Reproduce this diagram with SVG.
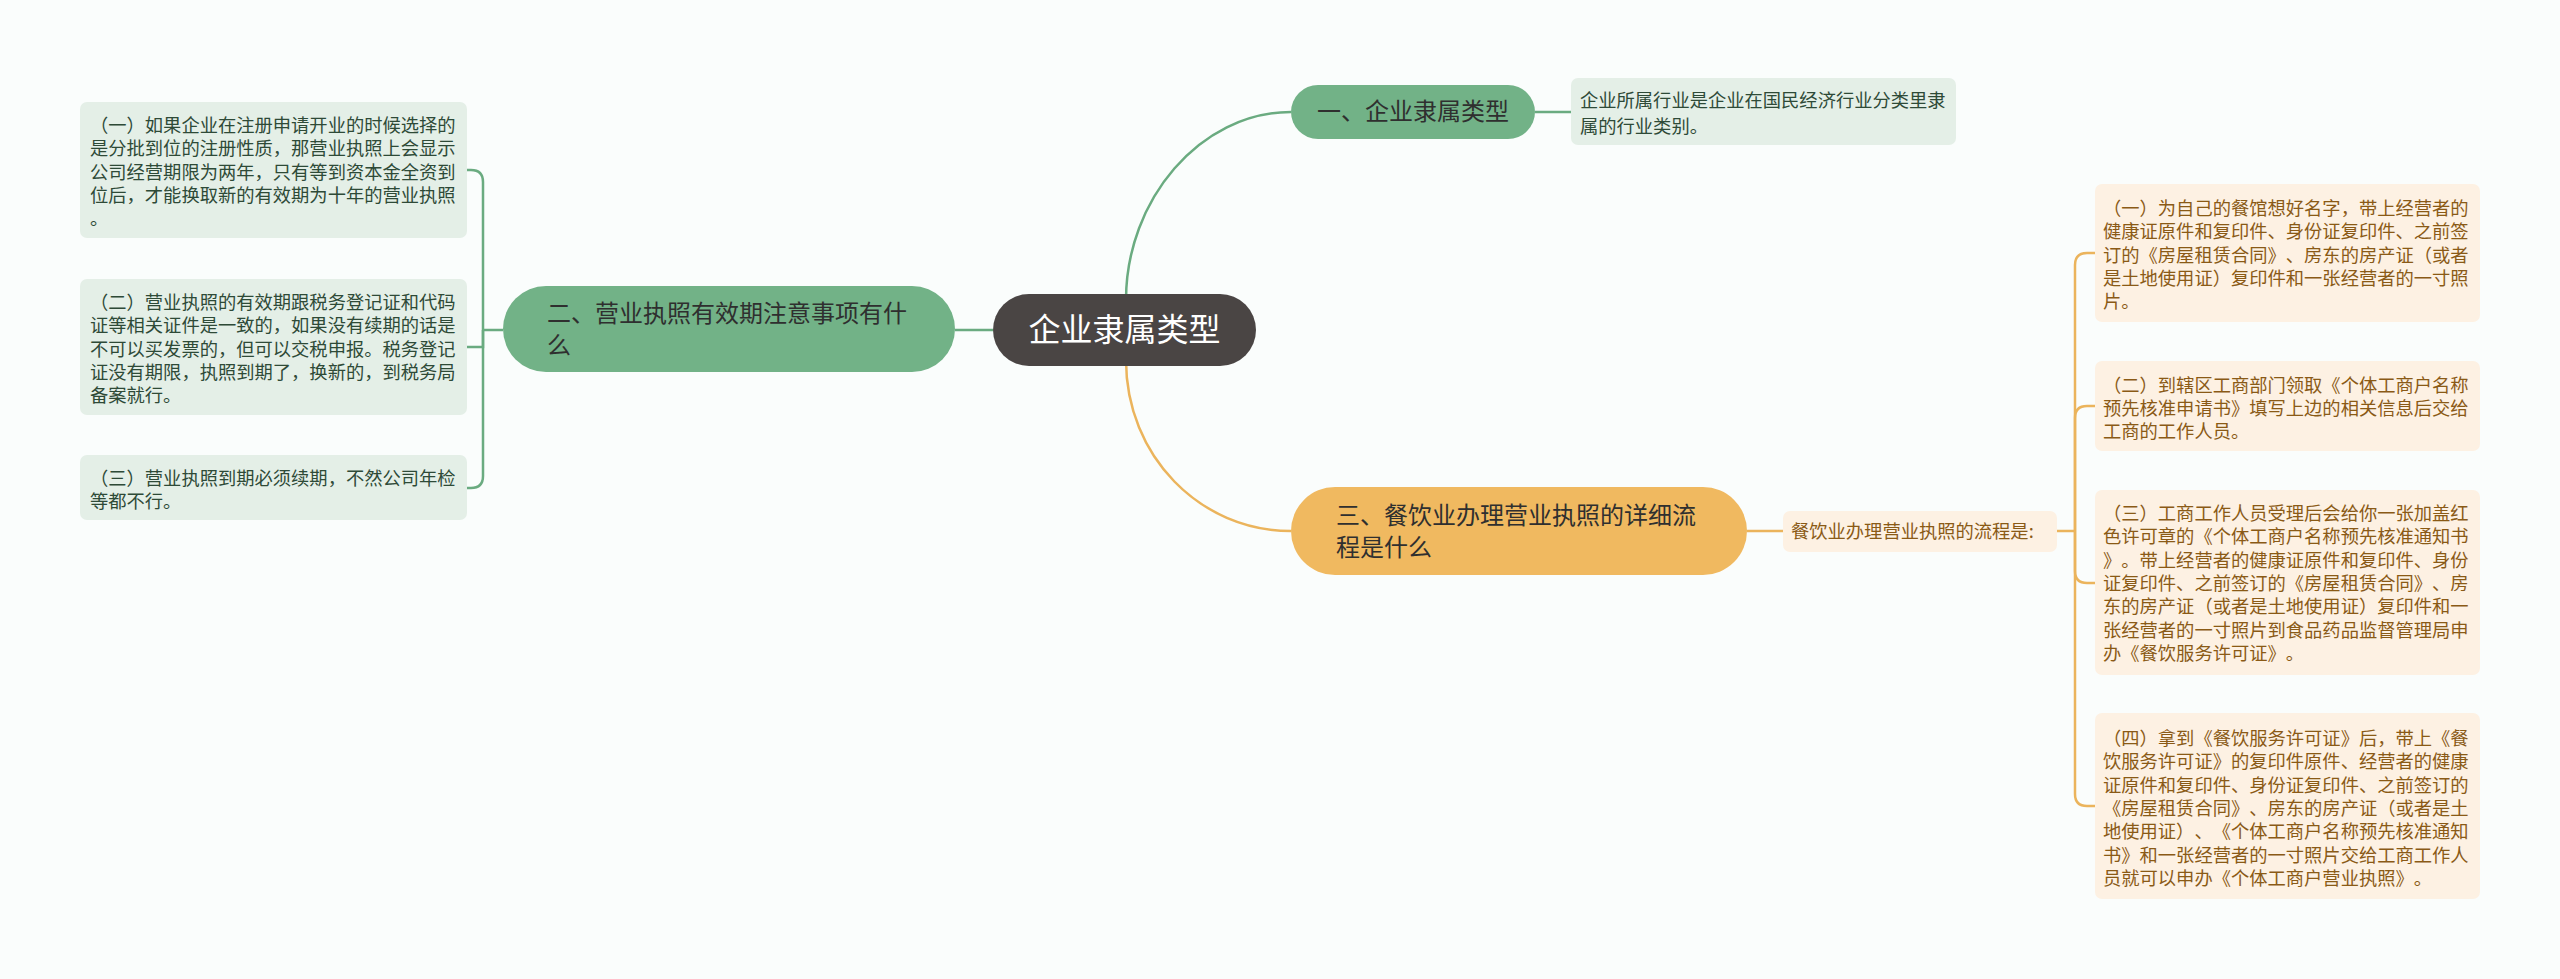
<svg xmlns="http://www.w3.org/2000/svg" width="2560" height="979" viewBox="0 0 2560 979">
<style>
text{font-family:"Noto Sans CJK SC","Noto Sans",sans-serif;text-spacing-trim:space-all}
.gbox{fill:#e4efe7}
.obox{fill:#fdf1e3}
.gt{font-size:18.3px;fill:#2e4a37}
.ot{font-size:18.3px;fill:#8a5a16}
.gl{fill:none;stroke:#6aab80;stroke-width:2.5}
.ol{fill:none;stroke:#ebb45c;stroke-width:2.5}
.nt{font-size:24px;fill:#2f2f2f}
</style>
<rect width="2560" height="979" fill="#fafdfc"/>
<g id="connectors">
<path class="gl" d="M1126,300 C1126,200 1200,112 1291,112"/>
<path class="ol" d="M1126,360 C1126,456 1200,531 1291,531"/>
<path class="gl" d="M993,330 L955,330"/>
<path class="gl" d="M1535,112 L1571,112"/>
<path class="ol" d="M1747,531 L1783,531"/>
<path class="gl" d="M503,330 L483,330"/>
<path class="gl" d="M483,330 L483,182 Q483,170 471,170 L467,170"/>
<path class="gl" d="M483,330 L483,347 L467,347"/>
<path class="gl" d="M483,330 L483,476 Q483,488 471,488 L467,488"/>
<path class="ol" d="M2057,531 L2075,531"/>
<path class="ol" d="M2075,531 L2075,265 Q2075,253 2087,253 L2095,253"/>
<path class="ol" d="M2075,531 L2075,418 Q2075,406 2087,406 L2095,406"/>
<path class="ol" d="M2075,531 L2075,571 Q2075,583 2087,583 L2095,583"/>
<path class="ol" d="M2075,531 L2075,794 Q2075,806 2087,806 L2095,806"/>
</g>
<g id="center">
<rect x="993" y="294" width="263" height="72" rx="36" fill="#4a4544"/>
<text x="1124.5" y="341" font-size="32" fill="#ffffff" text-anchor="middle">企业隶属类型</text>
</g>
<g id="n1">
<rect x="1291" y="85" width="244" height="54" rx="27" fill="#72b287"/>
<text class="nt" x="1413" y="120" text-anchor="middle">一、企业隶属类型</text>
</g>
<g id="n1-leaf">
<rect x="1571" y="78" width="385" height="67" rx="7" class="gbox"/>
<text class="gt"><tspan x="1580" y="107">企业所属行业是企业在国民经济行业分类里隶</tspan><tspan x="1580" y="133">属的行业类别。</tspan></text>
</g>
<g id="n2">
<rect x="503" y="286" width="452" height="86" rx="43" fill="#72b287"/>
<text class="nt"><tspan x="547" y="322">二、营业执照有效期注意事项有什</tspan><tspan x="547" y="354">么</tspan></text>
</g>
<g id="n2-a">
<rect x="80" y="102" width="387" height="136" rx="7" class="gbox"/>
<text class="gt"><tspan x="90" y="132">（一）如果企业在注册申请开业的时候选择的</tspan><tspan x="90" y="155">是分批到位的注册性质，那营业执照上会显示</tspan><tspan x="90" y="179">公司经营期限为两年，只有等到资本金全资到</tspan><tspan x="90" y="202">位后，才能换取新的有效期为十年的营业执照</tspan><tspan x="90" y="225">。</tspan></text>
</g>
<g id="n2-b">
<rect x="80" y="279" width="387" height="136" rx="7" class="gbox"/>
<text class="gt"><tspan x="90" y="309">（二）营业执照的有效期跟税务登记证和代码</tspan><tspan x="90" y="332">证等相关证件是一致的，如果没有续期的话是</tspan><tspan x="90" y="356">不可以买发票的，但可以交税申报。税务登记</tspan><tspan x="90" y="379">证没有期限，执照到期了，换新的，到税务局</tspan><tspan x="90" y="402">备案就行。</tspan></text>
</g>
<g id="n2-c">
<rect x="80" y="455" width="387" height="65" rx="7" class="gbox"/>
<text class="gt"><tspan x="90" y="485">（三）营业执照到期必须续期，不然公司年检</tspan><tspan x="90" y="508">等都不行。</tspan></text>
</g>
<g id="n3">
<rect x="1291" y="487" width="456" height="88" rx="44" fill="#f0b960"/>
<text class="nt" fill="#3a2e1c"><tspan x="1336" y="524">三、餐饮业办理营业执照的详细流</tspan><tspan x="1336" y="556">程是什么</tspan></text>
</g>
<g id="n3-leaf">
<rect x="1783" y="511" width="274" height="41" rx="7" class="obox"/>
<text class="ot" x="1791" y="538">餐饮业办理营业执照的流程是:</text>
</g>
<g id="n3-a">
<rect x="2095" y="184" width="385" height="138" rx="7" class="obox"/>
<text class="ot"><tspan x="2103" y="215">（一）为自己的餐馆想好名字，带上经营者的</tspan><tspan x="2103" y="238">健康证原件和复印件、身份证复印件、之前签</tspan><tspan x="2103" y="262">订的《房屋租赁合同》、房东的房产证（或者</tspan><tspan x="2103" y="285">是土地使用证）复印件和一张经营者的一寸照</tspan><tspan x="2103" y="308">片。</tspan></text>
</g>
<g id="n3-b">
<rect x="2095" y="361" width="385" height="90" rx="7" class="obox"/>
<text class="ot"><tspan x="2103" y="392">（二）到辖区工商部门领取《个体工商户名称</tspan><tspan x="2103" y="415">预先核准申请书》填写上边的相关信息后交给</tspan><tspan x="2103" y="438">工商的工作人员。</tspan></text>
</g>
<g id="n3-c">
<rect x="2095" y="490" width="385" height="185" rx="7" class="obox"/>
<text class="ot"><tspan x="2103" y="520">（三）工商工作人员受理后会给你一张加盖红</tspan><tspan x="2103" y="543">色许可章的《个体工商户名称预先核准通知书</tspan><tspan x="2103" y="567">》。带上经营者的健康证原件和复印件、身份</tspan><tspan x="2103" y="590">证复印件、之前签订的《房屋租赁合同》、房</tspan><tspan x="2103" y="613">东的房产证（或者是土地使用证）复印件和一</tspan><tspan x="2103" y="637">张经营者的一寸照片到食品药品监督管理局申</tspan><tspan x="2103" y="660">办《餐饮服务许可证》。</tspan></text>
</g>
<g id="n3-d">
<rect x="2095" y="713" width="385" height="186" rx="7" class="obox"/>
<text class="ot"><tspan x="2103" y="745">（四）拿到《餐饮服务许可证》后，带上《餐</tspan><tspan x="2103" y="768">饮服务许可证》的复印件原件、经营者的健康</tspan><tspan x="2103" y="792">证原件和复印件、身份证复印件、之前签订的</tspan><tspan x="2103" y="815">《房屋租赁合同》、房东的房产证（或者是土</tspan><tspan x="2103" y="838">地使用证）、《个体工商户名称预先核准通知</tspan><tspan x="2103" y="862">书》和一张经营者的一寸照片交给工商工作人</tspan><tspan x="2103" y="885">员就可以申办《个体工商户营业执照》。</tspan></text>
</g>
</svg>
